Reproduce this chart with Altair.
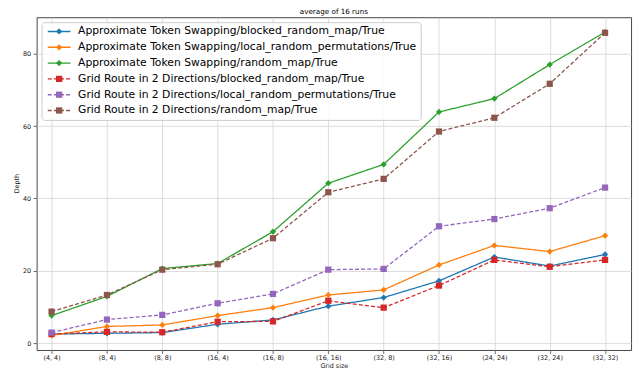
import json
import altair as alt
import pandas as pd

grid_sizes = ["(4, 4)", "(8, 4)", "(8, 8)", "(16, 4)", "(16, 8)", "(16, 16)",
              "(32, 8)", "(32, 16)", "(24, 24)", "(32, 24)", "(32, 32)"]

series_names = [
    "Approximate Token Swapping/blocked_random_map/True",
    "Approximate Token Swapping/local_random_permutations/True",
    "Approximate Token Swapping/random_map/True",
    "Grid Route in 2 Directions/blocked_random_map/True",
    "Grid Route in 2 Directions/local_random_permutations/True",
    "Grid Route in 2 Directions/random_map/True",
]

ats_blocked = [2.5, 2.7, 2.9, 5.2, 6.4, 10.2, 12.6, 17.2, 23.8, 21.3, 24.5]
ats_local = [2.1, 4.6, 5.0, 7.6, 9.8, 13.3, 14.7, 21.6, 27.0, 25.3, 29.7]
ats_random = [7.6, 12.9, 20.6, 22.0, 30.8, 44.2, 49.4, 63.9, 67.6, 77.0, 86.0]
grid_blocked = [2.5, 3.1, 3.0, 5.9, 6.0, 11.7, 9.8, 15.9, 23.0, 21.1, 23.0]
grid_local = [2.9, 6.5, 7.8, 11.0, 13.6, 20.3, 20.5, 32.3, 34.3, 37.3, 43.0]
grid_random = [8.7, 13.3, 20.3, 21.8, 29.0, 41.7, 45.4, 58.5, 62.3, 71.7, 85.8]

all_series = [ats_blocked, ats_local, ats_random, grid_blocked, grid_local, grid_random]

colors = ["#1f77b4", "#ff7f0e", "#2ca02c", "#d62728", "#9467bd", "#8c564b"]
dashes = [[1, 0], [1, 0], [1, 0], [4, 2.2], [4, 2.2], [4, 2.2]]
shapes = ["diamond", "diamond", "diamond", "square", "square", "square"]

rows = []
for name, vals in zip(series_names, all_series):
    for i, v in enumerate(vals):
        rows.append({"idx": i, "size": grid_sizes[i], "depth": v,
                     "series": name, "series_b": name})
df = pd.DataFrame(rows)

FONT = "DejaVu Sans"
label_expr = json.dumps(grid_sizes) + "[datum.value]"

x_enc = alt.X("idx:Q",
              scale=alt.Scale(domain=[-0.27, 10.47], nice=False, zero=False),
              axis=alt.Axis(values=list(range(len(grid_sizes))), labelExpr=label_expr,
                            title="Grid size", titleY=16, titleBaseline="middle",
                            labelPadding=1.5))
y_enc = alt.Y("depth:Q",
              scale=alt.Scale(domain=[-1.91, 90.1], nice=False, zero=False),
              axis=alt.Axis(values=[0, 20, 40, 60, 80], title="Depth",
                            titleX=-20, titleY=168, titleBaseline="middle",
                            titleAlign="center", labelPadding=2.5))

LX, LY, PAD = 5, 5, 4
LEG_FONT = 10.9
SYM = 40                      # legend symbol area (both legends)
HALF = SYM ** 0.5 / 2         # symbol radius in px
LINE_HALF = 11.5              # half length of legend line
line_path = "M-{0:.3f},0H{0:.3f}".format(LINE_HALF / HALF)
SYM_OFF = LINE_HALF - HALF
LAB_OFF = 13.7
ROWPAD = 4.0

common = dict(orient="none", legendX=LX, legendY=LY, title=None, padding=PAD,
              rowPadding=ROWPAD, symbolSize=SYM, symbolOffset=SYM_OFF,
              labelFontSize=LEG_FONT, labelOffset=LAB_OFF, labelLimit=500)

lines = alt.Chart(df).mark_line(strokeWidth=1.3).encode(
    x=x_enc, y=y_enc,
    color=alt.Color("series:N", scale=alt.Scale(range=colors),
                    legend=alt.Legend(symbolType=line_path, symbolStrokeWidth=1.4,
                                      labelColor="#000000",
                                      fillColor="rgba(255,255,255,0.85)",
                                      strokeColor="#cccccc", cornerRadius=3,
                                      **common)),
    strokeDash=alt.StrokeDash("series:N", scale=alt.Scale(range=dashes)),
    order="idx:Q",
)

points = alt.Chart(df).mark_point(filled=True, size=SYM, opacity=1).encode(
    x="idx:Q", y="depth:Q",
    fill=alt.Fill("series_b:N", scale=alt.Scale(range=colors),
                  legend=alt.Legend(labelOpacity=0, labelColor="transparent",
                                    symbolStrokeWidth=0, **common)),
    shape=alt.Shape("series_b:N", scale=alt.Scale(range=shapes)),
)

chart = alt.layer(lines, points).properties(
    width=602, height=337,
    title=alt.TitleParams("average of 16  runs", fontSize=7.3, font=FONT,
                          fontWeight="normal", offset=2, dy=6.5, baseline="alphabetic",
                          frame="group", color="#000000"),
    autosize=alt.AutoSizeParams(type="none"),
    padding={"left": 29, "top": 7, "right": 5, "bottom": 24},
).configure_view(
    stroke="#444444", strokeWidth=1
).configure_axis(
    labelFont=FONT, titleFont=FONT, labelFontSize=6.5, titleFontSize=6.5,
    titleFontWeight="normal", labelColor="#222222", titleColor="#222222",
    grid=True, gridColor="#d4d4d4", gridWidth=0.8, domain=False,
    tickColor="#444444", tickSize=3.5, tickWidth=0.8,
).configure_legend(
    labelFont=FONT
)

chart.save("out.html", embed_options={"renderer": "svg", "actions": False})
